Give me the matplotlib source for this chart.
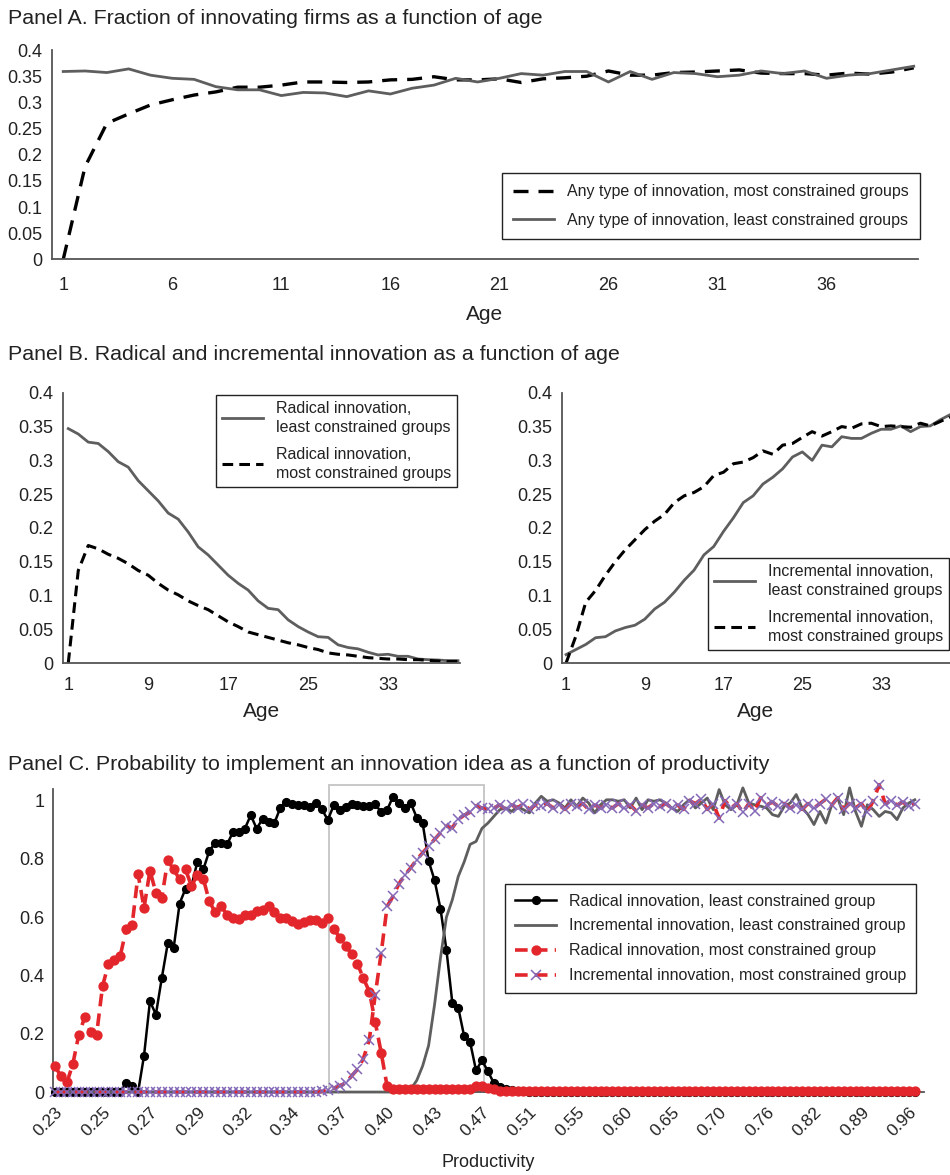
import matplotlib
matplotlib.use('Agg')
import matplotlib.pyplot as plt
from matplotlib.patches import Rectangle
from matplotlib.ticker import FuncFormatter

plt.rcParams['font.family'] = ['Liberation Sans', 'DejaVu Sans']

# ---- Panel A: fraction of innovating firms by age
ages = list(range(1, 41))
any_most = [0.0, 0.177, 0.26, 0.278, 0.295, 0.305, 0.314, 0.32, 0.329, 0.329,
            0.333, 0.339, 0.339, 0.338, 0.339, 0.343, 0.344, 0.349, 0.343, 0.343,
            0.345, 0.338, 0.345, 0.347, 0.35, 0.36, 0.352, 0.352, 0.357, 0.358,
            0.36, 0.362, 0.356, 0.355, 0.355, 0.352, 0.356, 0.354, 0.358, 0.366]
any_least = [0.359, 0.36, 0.357, 0.364, 0.352, 0.346, 0.344, 0.33, 0.324, 0.324,
             0.313, 0.319, 0.318, 0.311, 0.322, 0.316, 0.327, 0.333, 0.346, 0.339,
             0.346, 0.355, 0.352, 0.359, 0.359, 0.339, 0.359, 0.344, 0.357, 0.355,
             0.349, 0.352, 0.36, 0.355, 0.36, 0.346, 0.352, 0.355, 0.362, 0.369]
age_ticks = [1, 6, 11, 16, 21, 26, 31, 36]

# ---- Panel B: radical / incremental by age
rad_least = [0.347, 0.339, 0.327, 0.325, 0.313, 0.298, 0.29, 0.27, 0.255, 0.24,
             0.222, 0.213, 0.194, 0.172, 0.16, 0.145, 0.13, 0.118, 0.108, 0.092,
             0.081, 0.079, 0.064, 0.054, 0.046, 0.039, 0.038, 0.027, 0.023, 0.021,
             0.016, 0.012, 0.013, 0.01, 0.01, 0.006, 0.005, 0.0045, 0.0035, 0.0035]
rad_most = [0.0, 0.137, 0.174, 0.169, 0.161, 0.155, 0.147, 0.137, 0.13, 0.118,
            0.108, 0.101, 0.092, 0.085, 0.079, 0.07, 0.061, 0.054, 0.046, 0.042,
            0.038, 0.034, 0.03, 0.027, 0.023, 0.02, 0.015, 0.013, 0.012, 0.01,
            0.008, 0.007, 0.006, 0.006, 0.005, 0.005, 0.004, 0.003, 0.0025, 0.0025]
inc_least = [0.0125, 0.02, 0.0275, 0.0375, 0.039, 0.0475, 0.0525, 0.056, 0.065, 0.08,
             0.09, 0.105, 0.1225, 0.1375, 0.16, 0.1725, 0.195, 0.215, 0.2375, 0.2475,
             0.265, 0.275, 0.2875, 0.305, 0.3125, 0.30, 0.3225, 0.32, 0.335, 0.3325,
             0.3325, 0.34, 0.346, 0.346, 0.351, 0.3425, 0.35, 0.351, 0.36, 0.3675]
inc_most = [0.0, 0.04, 0.09, 0.1075, 0.13, 0.15, 0.1675, 0.1825, 0.1975, 0.21,
            0.22, 0.2375, 0.2475, 0.2525, 0.261, 0.2775, 0.2825, 0.295, 0.2975, 0.304,
            0.314, 0.309, 0.3225, 0.325, 0.334, 0.3425, 0.336, 0.3425, 0.35, 0.3475,
            0.354, 0.355, 0.35, 0.351, 0.35, 0.349, 0.355, 0.351, 0.3575, 0.364]
b_ticks = [1, 9, 17, 25, 33]

# ---- Panel C: probability to implement an idea, by productivity bin
prod_labels = ['0.23', '0.25', '0.27', '0.29', '0.32', '0.34', '0.37', '0.40', '0.43',
               '0.47', '0.51', '0.55', '0.60', '0.65', '0.70', '0.76', '0.82', '0.89', '0.96']
c_rad_least = ([0.0] * 12 +
               [0.031, 0.022, 0.0, 0.125, 0.312, 0.266, 0.392, 0.51, 0.495, 0.647,
                0.698, 0.707, 0.79, 0.764, 0.827, 0.856, 0.856, 0.85, 0.892, 0.892,
                0.904, 0.95, 0.904, 0.938, 0.927, 0.924, 0.976, 0.995, 0.987, 0.984,
                0.984, 0.979, 0.993, 0.97, 0.934, 0.984, 0.967, 0.979, 0.987, 0.984,
                0.982, 0.982, 0.987, 0.961, 0.968, 1.014, 0.991, 0.976, 0.991, 0.942,
                0.922, 0.793, 0.727, 0.629, 0.489, 0.306, 0.289, 0.191, 0.171, 0.074,
                0.109, 0.071, 0.031, 0.019, 0.012, 0.008, 0.005, 0.003] +
               [0.0] * 66)
c_inc_least = ([0.0] * 60 +
               [0.01, 0.04, 0.09, 0.16, 0.30, 0.46, 0.60, 0.66, 0.74, 0.79,
                0.85, 0.86, 0.905, 0.923,
                0.946, 0.969, 0.975, 0.963, 0.98, 0.969, 0.958, 0.992, 1.015, 0.998,
                1.003, 0.992, 0.975, 1.003, 0.981, 1.009, 0.992, 0.958, 0.986, 1.003,
                1.003, 0.998, 1.003, 0.975, 1.009, 0.969, 1.003, 0.998, 1.003, 0.992,
                0.975, 0.963, 0.986, 1.003, 0.975, 0.992, 1.009, 0.969, 1.038, 0.986,
                0.969, 0.986, 1.044, 0.992, 0.986, 0.981, 0.975, 0.952, 0.946, 0.981,
                0.992, 1.021, 0.975, 0.952, 0.918, 0.963, 0.923, 0.986, 1.009, 0.952,
                1.044, 0.963, 0.912, 0.986, 0.969, 0.946, 0.963, 0.958, 0.935, 0.975,
                0.992, 1.003])
c_rad_most = ([0.088, 0.054, 0.033, 0.097, 0.197, 0.257, 0.205, 0.197, 0.363, 0.44,
               0.452, 0.468, 0.56, 0.575, 0.747, 0.632, 0.76, 0.684, 0.667, 0.795,
               0.764, 0.73, 0.764, 0.707, 0.745, 0.732, 0.655, 0.617, 0.638, 0.609,
               0.598, 0.594, 0.606, 0.609, 0.621, 0.624, 0.638, 0.617, 0.598, 0.598,
               0.586, 0.578, 0.583, 0.59, 0.59, 0.58, 0.598, 0.56, 0.53, 0.50,
               0.475, 0.44, 0.39, 0.345, 0.24, 0.135, 0.02] +
              [0.012] * 14 + [0.02, 0.02, 0.015, 0.01] + [0.003] * 71)
c_inc_most = ([0.0] * 45 +
              [0.002, 0.006, 0.013, 0.022, 0.03, 0.055, 0.078, 0.115, 0.18, 0.334,
               0.477, 0.637, 0.672, 0.715, 0.745, 0.77, 0.798, 0.821, 0.844, 0.867,
               0.89, 0.913, 0.907, 0.936, 0.95, 0.96, 0.982, 0.975, 0.97, 0.975,
               0.985, 0.97, 0.985, 0.975, 0.99, 0.97, 0.985, 0.98, 0.99, 0.975,
               0.985, 0.97, 0.99, 0.98, 0.99, 0.97, 0.985, 0.975, 0.985, 0.975,
               0.99, 0.975, 0.985, 0.965, 0.985, 0.975, 0.99, 0.98, 0.99, 0.975,
               0.985, 0.97, 1.0, 0.99, 1.005, 0.97, 0.99, 0.94, 1.0, 0.975,
               0.99, 0.96, 0.99, 0.965, 1.01, 0.985, 0.995, 0.98, 0.99, 0.975,
               0.985, 0.97, 0.99, 0.975, 0.99, 1.005, 0.985, 1.01, 0.97, 0.99,
               0.975, 0.99, 0.96, 1.0, 1.055, 0.99, 1.0, 0.985, 0.995, 0.98,
               0.99])

GREY = '#5e5e5e'
RED = '#e2262b'
PURPLE = '#8468b8'
AXIS = '#555555'
TXT = '#222222'


def style_axes(ax):
    for s in ['top', 'right']:
        ax.spines[s].set_visible(False)
    for s in ['left', 'bottom']:
        ax.spines[s].set_color(AXIS)
        ax.spines[s].set_linewidth(1.3)
    ax.tick_params(length=0, labelsize=13, colors=TXT)
    ax.yaxis.set_major_formatter(FuncFormatter(lambda v, p: '%g' % round(v, 3)))


def boxed_legend(ax, anchor, linespacing=1.2, **kw):
    leg = ax.legend(loc='upper right', bbox_to_anchor=anchor, bbox_transform=fig.transFigure,
                    borderaxespad=0, fancybox=False, framealpha=1, edgecolor='#222222',
                    fontsize=11.5, handlelength=2.6, **kw)
    leg.get_frame().set_linewidth(1.0)
    for t in leg.get_texts():
        t.set_color(TXT)
        t.set_linespacing(linespacing)
    return leg


fig = plt.figure(figsize=(9.5, 11.75), dpi=100)

# Panel A
fig.text(0.008, 1 - 18 / 1175, 'Panel A. Fraction of innovating firms as a function of age',
         fontsize=15.4, color=TXT, va='center')
axA = fig.add_axes([0.0544, 0.7793, 0.912, 0.1781])
axA.plot(ages, any_most, color='black', lw=2.4, ls=(0, (4.5, 3)),
         label='Any type of innovation, most constrained groups')
axA.plot(ages, any_least, color=GREY, lw=2.0,
         label='Any type of innovation, least constrained groups')
axA.set_xlim(0.47, 40.2)
axA.set_ylim(0, 0.4)
axA.set_yticks([0, 0.05, 0.1, 0.15, 0.2, 0.25, 0.3, 0.35, 0.4])
axA.set_xticks(age_ticks)
style_axes(axA)
axA.tick_params(axis='x', pad=13)
axA.tick_params(axis='y', pad=7)
axA.set_xlabel('Age', fontsize=15, color=TXT, labelpad=8)
boxed_legend(axA, (0.9684, 0.8528), borderpad=0.7, labelspacing=0.85)

# Panel B
fig.text(0.008, 1 - 355 / 1175, 'Panel B. Radical and incremental innovation as a function of age',
         fontsize=15.4, color=TXT, va='center')
axB1 = fig.add_axes([0.0666, 0.4357, 0.4176, 0.2300])
axB1.plot(ages, rad_least, color=GREY, lw=2.0,
          label='Radical innovation,\nleast constrained groups')
axB1.plot(ages, rad_most, color='black', lw=2.2, ls=(0, (3.5, 2)),
          label='Radical innovation,\nmost constrained groups')
axB1.set_xlim(0.5, 40.2)
axB1.set_ylim(0, 0.4)
axB1.set_yticks([0, 0.05, 0.1, 0.15, 0.2, 0.25, 0.3, 0.35, 0.4])
axB1.set_xticks(b_ticks)
style_axes(axB1)
axB1.tick_params(axis='x', pad=10)
axB1.tick_params(axis='y', pad=7)
axB1.set_xlabel('Age', fontsize=15, color=TXT, labelpad=6)
boxed_legend(axB1, (0.481, 0.6638), linespacing=1.35, borderpad=0.35, labelspacing=0.75)

axB2 = fig.add_axes([0.5913, 0.4357, 0.4087, 0.2300])
axB2.plot(ages, inc_least, color=GREY, lw=2.0,
          label='Incremental innovation,\nleast constrained groups')
axB2.plot(ages, inc_most, color='black', lw=2.2, ls=(0, (3.5, 2)),
          label='Incremental innovation,\nmost constrained groups')
axB2.set_xlim(0.56, 40.0)
axB2.set_ylim(0, 0.4)
axB2.set_yticks([0, 0.05, 0.1, 0.15, 0.2, 0.25, 0.3, 0.35, 0.4])
axB2.set_xticks(b_ticks)
style_axes(axB2)
axB2.tick_params(axis='x', pad=10)
axB2.tick_params(axis='y', pad=7)
axB2.set_xlabel('Age', fontsize=15, color=TXT, labelpad=6)
boxed_legend(axB2, (0.999, 0.5251), linespacing=1.35, borderpad=0.35, labelspacing=0.75)

# Panel C
fig.text(0.008, 1 - 764 / 1175,
         'Panel C. Probability to implement an innovation idea as a function of productivity',
         fontsize=15.4, color=TXT, va='center')
axC = fig.add_axes([0.0555, 0.0706, 0.9168, 0.2579])
xc = list(range(len(c_rad_least)))
axC.add_patch(Rectangle((46.2, 0), 26.2, 1.055, fill=False, edgecolor='#c4c4c4',
                        lw=1.3, clip_on=False, zorder=1))
axC.plot(xc, c_rad_least, color='black', lw=1.8, marker='o', ms=5.6, clip_on=False,
         label='Radical innovation, least constrained group', zorder=3)
axC.plot(xc, c_inc_least, color=GREY, lw=2.0, clip_on=False,
         label='Incremental innovation, least constrained group', zorder=3)
axC.plot(xc, c_rad_most, color=RED, lw=2.6, ls=(0, (3.5, 2)), marker='o', ms=6.4,
         clip_on=False, label='Radical innovation, most constrained group', zorder=4)
axC.plot(xc, c_inc_most, color=RED, lw=2.6, ls=(0, (3.5, 2)), marker='x', ms=7.5,
         mec=PURPLE, mew=1.1, clip_on=False,
         label='Incremental innovation, most constrained group', zorder=5)
axC.set_xlim(-0.4, 146.5)
axC.set_ylim(0, 1.04)
axC.set_yticks([0, 0.2, 0.4, 0.6, 0.8, 1.0])
style_axes(axC)
axC.set_xticks(list(range(0, len(xc), 8))[:len(prod_labels)])
axC.set_xticklabels(prod_labels, rotation=45, ha='right', va='top', rotation_mode='anchor',
                    fontsize=12.5)
axC.tick_params(axis='x', pad=9)
axC.tick_params(axis='y', pad=6)
axC.set_xlabel('Productivity', fontsize=13, color=TXT, labelpad=11)
boxed_legend(axC, (0.9642, 0.2477), borderpad=0.6, labelspacing=0.62, numpoints=1)

fig.savefig('out.png', dpi=100)
